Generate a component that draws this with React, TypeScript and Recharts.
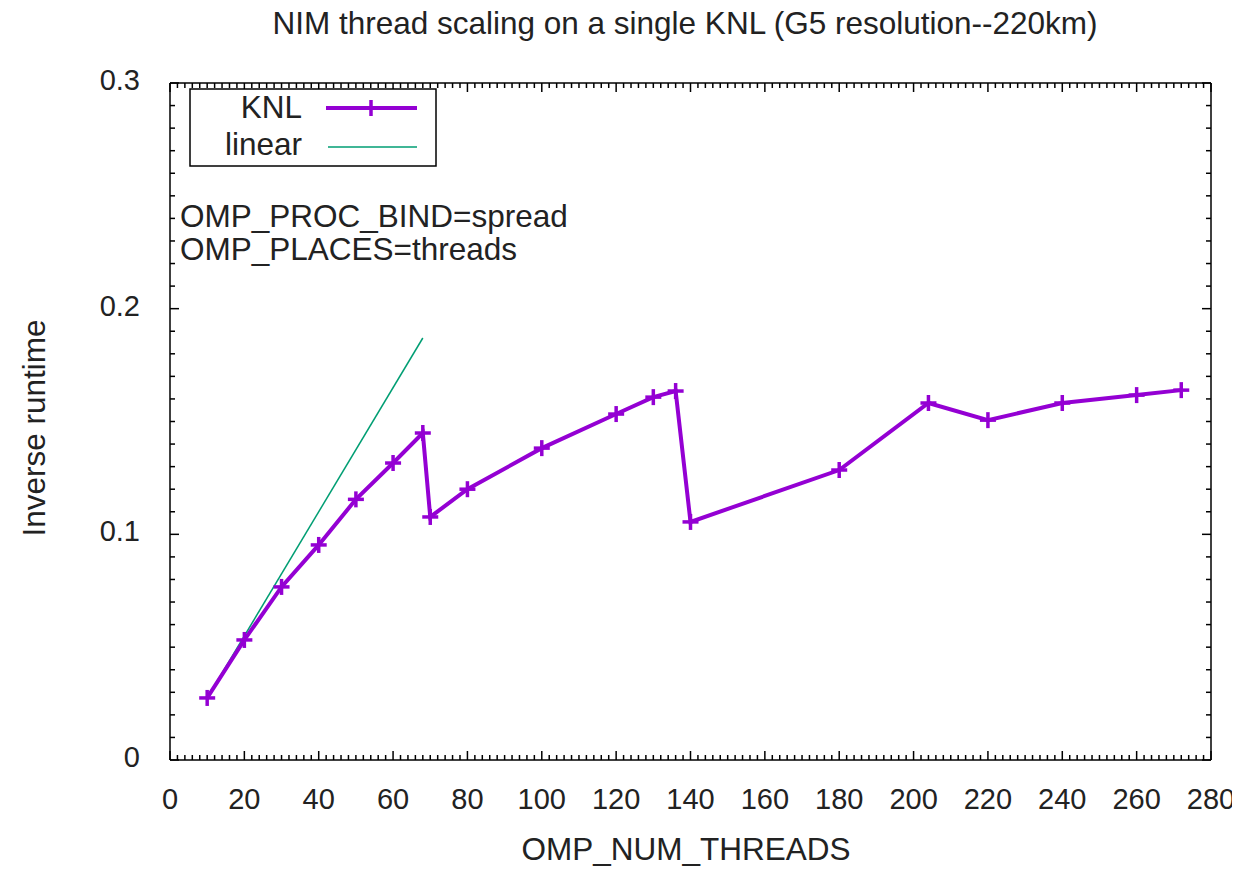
import { LineChart, Line, XAxis, YAxis } from 'recharts'

// KNL inverse runtime vs OMP_NUM_THREADS
const knlThreads = [10, 20, 30, 40, 50, 60, 68, 70, 80, 100, 120, 130, 136, 140, 180, 204, 220, 240, 260, 272]
const knlInvRuntime = [0.0275, 0.0532, 0.0767, 0.0953, 0.1155, 0.1316, 0.1449, 0.1077, 0.12, 0.1382, 0.1533, 0.1608, 0.1635, 0.1055, 0.1285, 0.1582, 0.1506, 0.1582, 0.1617, 0.1639]

// ideal linear scaling from the 10-thread point
const linearThreads = [10, 68]
const linearInvRuntime = [0.0275, 0.187]

const xMajorTicks = [0, 20, 40, 60, 80, 100, 120, 140, 160, 180, 200, 220, 240, 260, 280]
const yMajorTicks = [0, 0.1, 0.2, 0.3]
const yTickLabels = ['0', '0.1', '0.2', '0.3']

const knl = knlThreads.map((x, i) => ({ x, y: knlInvRuntime[i] }))
const linear = linearThreads.map((x, i) => ({ x, y: linearInvRuntime[i] }))

// minor ticks every 2 threads / every 0.01
const xTicks: number[] = []
for (let v = 0; v <= 280; v += 2) xTicks.push(v)
const yTicks: number[] = []
for (let i = 0; i <= 30; i++) yTicks.push(+(i / 100).toFixed(2))

const FONT = '"Liberation Sans", Arial, sans-serif'
const PURPLE = '#9400d3'
const GREEN = '#009e73'
const W = 1232
const H = 861
const FS = 31.5
const TICK_FS = 29

const isXMajor = (v: number) => xMajorTicks.includes(v)
const isYMajor = (v: number) => yMajorTicks.some(m => Math.abs(m - v) < 1e-9)

function makeTick(side: 'bottom' | 'top' | 'left' | 'right') {
  return (props: any) => {
    const { x, y, payload } = props
    const v = payload.value
    if (side === 'bottom' || side === 'top') {
      const len = isXMajor(v) ? 9 : 5
      const dir = side === 'bottom' ? -1 : 1
      return (
        <g>
          <line x1={x} y1={y} x2={x} y2={y + dir * len} stroke="#000" strokeWidth={1.5} />
          {side === 'bottom' && isXMajor(v) && (
            <text x={x} y={y + 49} textAnchor="middle" fontSize={TICK_FS} fontFamily={FONT} fill="#222">
              {v}
            </text>
          )}
        </g>
      )
    }
    const major = isYMajor(v)
    const len = major ? 9 : 5
    const dir = side === 'left' ? 1 : -1
    const idx = yMajorTicks.findIndex(m => Math.abs(m - v) < 1e-9)
    return (
      <g>
        <line x1={x} y1={y} x2={x + dir * len} y2={y} stroke="#000" strokeWidth={1.5} />
        {side === 'left' && major && (
          <text x={x - 30} y={y + 7} textAnchor="end" fontSize={TICK_FS} fontFamily={FONT} fill="#222">
            {yTickLabels[idx]}
          </text>
        )}
      </g>
    )
  }
}

function PlusDot(props: any) {
  const { cx, cy } = props
  if (cx == null || cy == null) return null
  return (
    <g>
      <line x1={cx - 8} y1={cy} x2={cx + 8} y2={cy} stroke={PURPLE} strokeWidth={3.5} />
      <line x1={cx} y1={cy - 8} x2={cx} y2={cy + 8} stroke={PURPLE} strokeWidth={3.5} />
    </g>
  )
}

const axisLine = { stroke: '#000', strokeWidth: 1.5 }

export default function App() {
  return (
    <div style={{ position: 'relative', width: W, height: H, background: '#fff' }}>
      <LineChart width={W} height={H} margin={{ top: 74, right: 28, bottom: 108, left: 161 }}>
        <XAxis
          xAxisId="b"
          type="number"
          dataKey="x"
          domain={[0, 280]}
          ticks={xTicks}
          interval={0}
          height={1}
          tickSize={0}
          tickMargin={0}
          tickLine={false}
          axisLine={axisLine}
          tick={makeTick('bottom')}
          allowDataOverflow
        />
        <XAxis
          xAxisId="t"
          orientation="top"
          type="number"
          dataKey="x"
          domain={[0, 280]}
          ticks={xTicks}
          interval={0}
          height={1}
          tickSize={0}
          tickMargin={0}
          tickLine={false}
          axisLine={axisLine}
          tick={makeTick('top')}
          allowDataOverflow
        />
        <YAxis
          yAxisId="l"
          type="number"
          domain={[0, 0.3]}
          ticks={yTicks}
          interval={0}
          width={1}
          tickSize={0}
          tickMargin={0}
          tickLine={false}
          axisLine={axisLine}
          tick={makeTick('left')}
          allowDataOverflow
        />
        <YAxis
          yAxisId="r"
          orientation="right"
          type="number"
          domain={[0, 0.3]}
          ticks={yTicks}
          interval={0}
          width={1}
          tickSize={0}
          tickMargin={0}
          tickLine={false}
          axisLine={axisLine}
          tick={makeTick('right')}
          allowDataOverflow
        />
        <Line
          xAxisId="b"
          yAxisId="l"
          data={linear}
          dataKey="y"
          type="linear"
          stroke={GREEN}
          strokeWidth={1.5}
          dot={false}
          activeDot={false}
          isAnimationActive={false}
        />
        <Line
          xAxisId="b"
          yAxisId="l"
          data={knl}
          dataKey="y"
          type="linear"
          stroke={PURPLE}
          strokeWidth={4}
          dot={<PlusDot />}
          activeDot={false}
          isAnimationActive={false}
        />
      </LineChart>
      {/* overlay in page coordinates (offset by the body margin) */}
      <svg
        width={1240}
        height={869}
        style={{ position: 'absolute', left: -8, top: -8, pointerEvents: 'none' }}
        fontFamily={FONT}
        fill="#222"
      >
        <text x={685} y={34} textAnchor="middle" fontSize={FS}>
          NIM thread scaling on a single KNL (G5 resolution--220km)
        </text>
        <text x={686} y={860} textAnchor="middle" fontSize={FS}>
          OMP_NUM_THREADS
        </text>
        <text x={45} y={428} textAnchor="middle" fontSize={FS} transform="rotate(-90, 45, 428)">
          Inverse runtime
        </text>
        <rect x={190} y={89} width={246} height={77} fill="#fff" stroke="#000" strokeWidth={1.5} />
        <text x={302} y={118} textAnchor="end" fontSize={FS}>KNL</text>
        <line x1={326} y1={108} x2={417} y2={108} stroke={PURPLE} strokeWidth={4} />
        <line x1={371} y1={100} x2={371} y2={116} stroke={PURPLE} strokeWidth={3.5} />
        <text x={302} y={155} textAnchor="end" fontSize={FS}>linear</text>
        <line x1={328} y1={147} x2={417} y2={147} stroke={GREEN} strokeWidth={1.5} />
        <text x={180} y={227} fontSize={FS}>OMP_PROC_BIND=spread</text>
        <text x={180} y={260} fontSize={FS}>OMP_PLACES=threads</text>
      </svg>
    </div>
  )
}
